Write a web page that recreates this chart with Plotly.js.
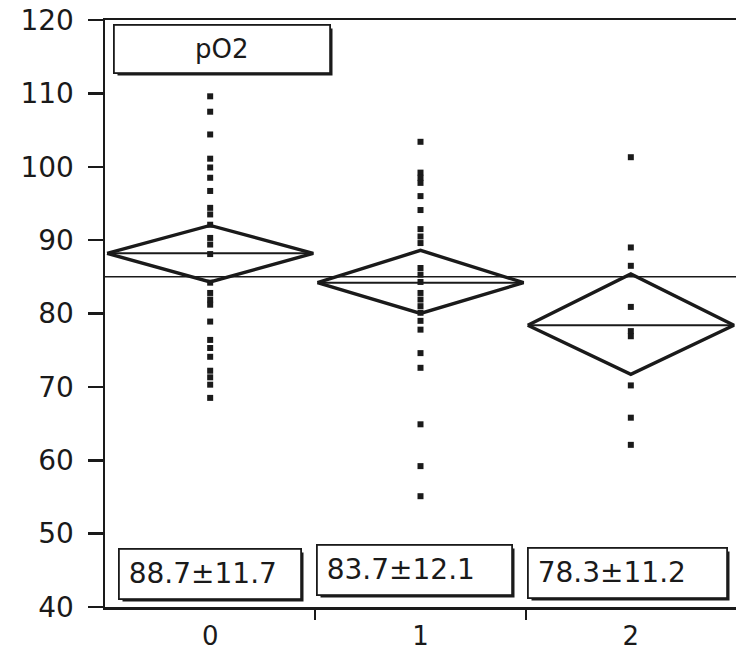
<!DOCTYPE html>
<html>
<head>
<meta charset="utf-8">
<script src="https://cdn.plot.ly/plotly-3.0.1.min.js"></script>
<style>html,body{margin:0;padding:0;background:#fff;}</style>
</head>
<body>
<div id="chart" style="width:736px;height:653px;"></div>
<script>
// ---- data ----
const categories = [0, 1, 2];
const categoryLabels = ['0', '1', '2'];
const group0 = [109.6, 107.5, 104.4, 101.1, 99.9, 98.5, 96.7, 94.4, 93.5, 92.1, 90.3, 89.4, 88.1,
                84.2, 82.8, 81.9, 81.2, 78.9, 76.4, 75.3, 74.1, 72.2, 71.3, 70.3, 68.5];
const group1 = [103.4, 99.2, 98.5, 97.8, 96.0, 94.1, 91.5, 90.5, 89.6, 86.2, 85.3, 84.3, 82.8,
                81.9, 81.0, 80.1, 79.0, 77.8, 74.6, 72.6, 64.9, 59.2, 55.1];
const group2 = [101.3, 89.0, 86.5, 80.9, 77.6, 76.9, 70.2, 65.8, 62.1];
const diamondMean = [88.2, 84.2, 78.4];
const diamondUpper = [92.0, 88.6, 85.4];
const diamondLower = [84.3, 80.0, 71.7];
const grandMean = 85.0;
const statLabels = ['88.7±11.7', '83.7±12.1', '78.3±11.2'];
const panelTitle = 'pO2';
const yTicks = [40, 50, 60, 70, 80, 90, 100, 110, 120];

const groups = [group0, group1, group2];
const FONT = 'DejaVu Sans, Arial, sans-serif';
const INK = '#1a1a1a';

const traces = [];
// grand mean line
traces.push({
  x: [-0.5, 2.5], y: [grandMean, grandMean], mode: 'lines',
  line: {color: INK, width: 1.4}, hoverinfo: 'skip', xaxis: 'x', yaxis: 'y'
});
// points
groups.forEach((g, i) => {
  traces.push({
    x: g.map(() => categories[i]), y: g, mode: 'markers',
    marker: {symbol: 'square', size: 6, color: INK}, xaxis: 'x', yaxis: 'y'
  });
});
// diamonds
categories.forEach((c, i) => {
  traces.push({
    x: [c - 0.49, c, c + 0.49, c, c - 0.49],
    y: [diamondMean[i], diamondUpper[i], diamondMean[i], diamondLower[i], diamondMean[i]],
    mode: 'lines', line: {color: INK, width: 3.4}, xaxis: 'x', yaxis: 'y'
  });
  traces.push({
    x: [c - 0.49, c + 0.49], y: [diamondMean[i], diamondMean[i]],
    mode: 'lines', line: {color: INK, width: 2}, xaxis: 'x', yaxis: 'y'
  });
});
// dummy trace to activate boundary tick axis
traces.push({x: [0], y: [40], mode: 'markers', marker: {opacity: 0}, xaxis: 'x2', yaxis: 'y', hoverinfo: 'skip'});

const annotations = [];
function box(x, y, w, h, text, align, size) {
  annotations.push({
    xref: 'x', yref: 'y', x: x, y: y, text: '', showarrow: false,
    width: w, height: h, bgcolor: INK, xshift: 3, yshift: -3, borderpad: 0
  });
  annotations.push({
    xref: 'x', yref: 'y', x: x, y: y, text: text, showarrow: false,
    width: w, height: h, bgcolor: '#ffffff', bordercolor: INK, borderwidth: 1.8,
    borderpad: 0, align: align, valign: 'middle',
    font: {family: FONT, size: size, color: INK}
  });
}
box(0.056, 116.1, 214, 46, panelTitle, 'center', 26);
const statX = [0.0, 0.97, 1.985];
const statY = [44.5, 45.0, 44.6];
const statW = [180, 193, 197];
statLabels.forEach((t, i) => box(statX[i], statY[i], statW[i], 48, ' ' + t, 'left', 28));

const layout = {
  width: 736, height: 653,
  margin: {l: 105, r: 0, t: 20, b: 46},
  paper_bgcolor: '#ffffff', plot_bgcolor: '#ffffff',
  showlegend: false,
  xaxis: {
    range: [-0.5, 2.5], tickvals: categories, ticktext: categoryLabels,
    ticks: '', showline: true, linewidth: 2.5, linecolor: INK, mirror: true,
    showgrid: false, zeroline: false, ticklabelstandoff: 4,
    tickfont: {family: FONT, size: 26, color: INK}
  },
  xaxis2: {
    overlaying: 'x', matches: 'x', anchor: 'y', side: 'bottom',
    tickvals: [0.5, 1.5], showticklabels: false, ticks: 'outside',
    ticklen: 12, tickwidth: 2, tickcolor: INK, showgrid: false, zeroline: false, showline: false
  },
  yaxis: {
    range: [40, 120], tickvals: yTicks, ticks: 'outside', ticklen: 15, tickwidth: 2.5,
    tickcolor: INK, showline: true, linewidth: 2.5, linecolor: INK,
    showgrid: false, zeroline: false, ticklabelstandoff: 8,
    tickfont: {family: FONT, size: 28, color: INK}
  },
  annotations: annotations
};

Plotly.newPlot('chart', traces, layout, {displayModeBar: false, staticPlot: true});
</script>
</body>
</html>
